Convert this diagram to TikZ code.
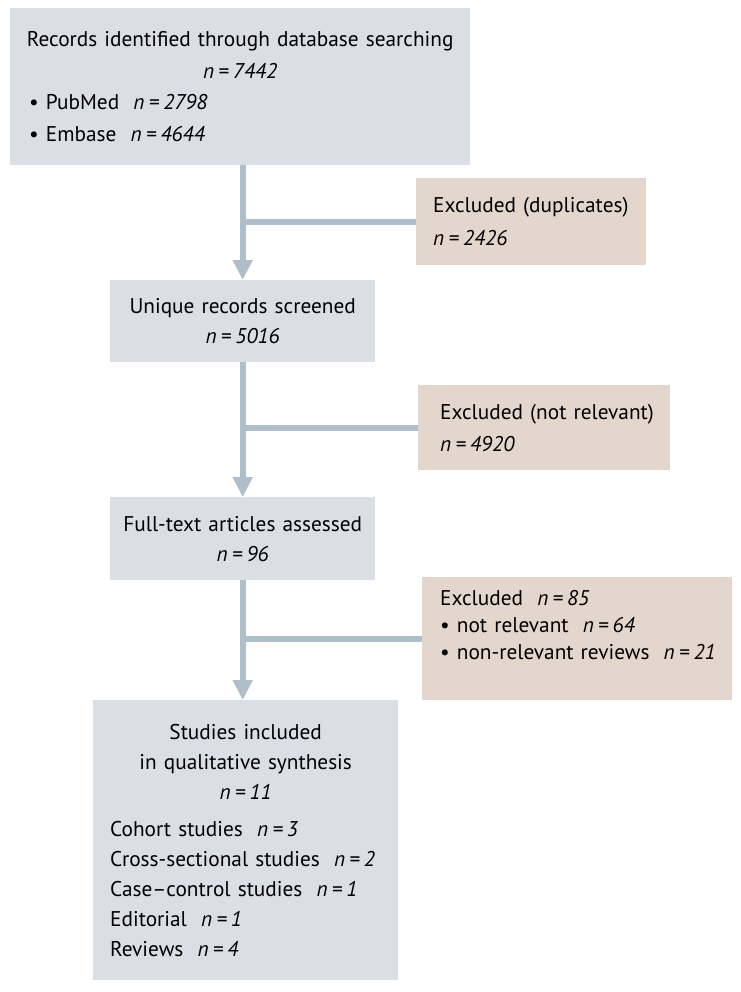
\documentclass[tikz,border=0pt]{standalone}
\usepackage{fontspec}
\setmainfont{PT Sans}
\usetikzlibrary{arrows.meta}

\definecolor{boxgrey}{HTML}{D9DFE4}
\definecolor{boxtan}{HTML}{E3D6CC}
\definecolor{flowgrey}{HTML}{AEBFCA}

\tikzset{
  stage/.style={fill=boxgrey, anchor=north west, inner xsep=8pt, inner ysep=0pt,
    align=left, font=\fontsize{21.3}{30}\selectfont},
  excl/.style={stage, fill=boxtan},
  flow/.style={draw=flowgrey, line width=6pt, -{Triangle[width=19pt,length=20pt]}},
  branch/.style={draw=flowgrey, line width=6pt},
}
\newcommand{\nval}[1]{\mbox{\textit{n\hspace{0.2em}=\hspace{0.2em}#1}}}

\begin{document}
\begin{tikzpicture}[x=1pt, y=-1pt]
  \useasboundingbox (0,0) rectangle (740,992);

  % main stages
  \node[stage, inner xsep=10pt, text width=440pt, minimum height=157pt,
        font=\fontsize{21.3}{31.5}\selectfont] (rec) at (10,8)
    {{\centering\mbox{Records identified through database searching}\\ \nval{7442}\par}
     \hspace*{9pt}\mbox{\textbullet\ PubMed\ \ \nval{2798}}\\
     \hspace*{9pt}\mbox{\textbullet\ Embase\ \ \nval{4644}}};
  \node[stage, text width=249pt, minimum height=82pt] (uniq) at (110,280)
    {{\centering\mbox{Unique records screened}\\ \nval{5016}\par}};
  \node[stage, text width=249pt, minimum height=83pt] (full) at (110,497)
    {{\centering\mbox{Full-text articles assessed}\\ \nval{96}\par}};
  \node[stage, inner xsep=17pt, text width=271pt, minimum height=280pt] (incl) at (93,700)
    {{\centering Studies included\\ in qualitative synthesis\\ \nval{11}\par}
     \vspace{7pt}
     \mbox{Cohort studies\ \ \nval{3}}\\
     \mbox{Cross-sectional studies\ \ \nval{2}}\\
     \mbox{Case--control studies\ \ \nval{1}}\\
     \mbox{Editorial\ \ \nval{1}}\\
     \mbox{Reviews\ \ \nval{4}}};

  % exclusions
  \node[excl, inner xsep=17pt, text width=196pt, minimum height=87pt,
        font=\fontsize{21.3}{33}\selectfont] (dup) at (416,178)
    {\mbox{Excluded (duplicates)}\\ \nval{2426}};
  \node[excl, inner xsep=22pt, text width=208pt, minimum height=85pt,
        font=\fontsize{21.3}{32}\selectfont] (notrel) at (418,385)
    {\mbox{Excluded (not relevant)}\\ \nval{4920}};
  \node[excl, inner xsep=18pt, text width=274pt, minimum height=123pt,
        font=\fontsize{21.3}{27}\selectfont] (exfull) at (422,577)
    {\mbox{Excluded\ \ \nval{85}}\\
     \mbox{\textbullet\ not relevant\ \ \nval{64}}\\
     \mbox{\textbullet\ non-relevant reviews\ \ \nval{21}}\par\mbox{}};

  % connectors
  \draw[flow] (rec.south -| uniq.north) -- (uniq.north);
  \draw[flow] (uniq.south) -- (full.north);
  \draw[flow] (full.south) -- (full.south |- incl.north);
  \draw[branch] (dup.west) -- (dup.west -| uniq.north);
  \draw[branch] (notrel.west) -- (notrel.west -| uniq.south);
  \draw[branch] (exfull.west) -- (exfull.west -| full.south);
\end{tikzpicture}
\end{document}
